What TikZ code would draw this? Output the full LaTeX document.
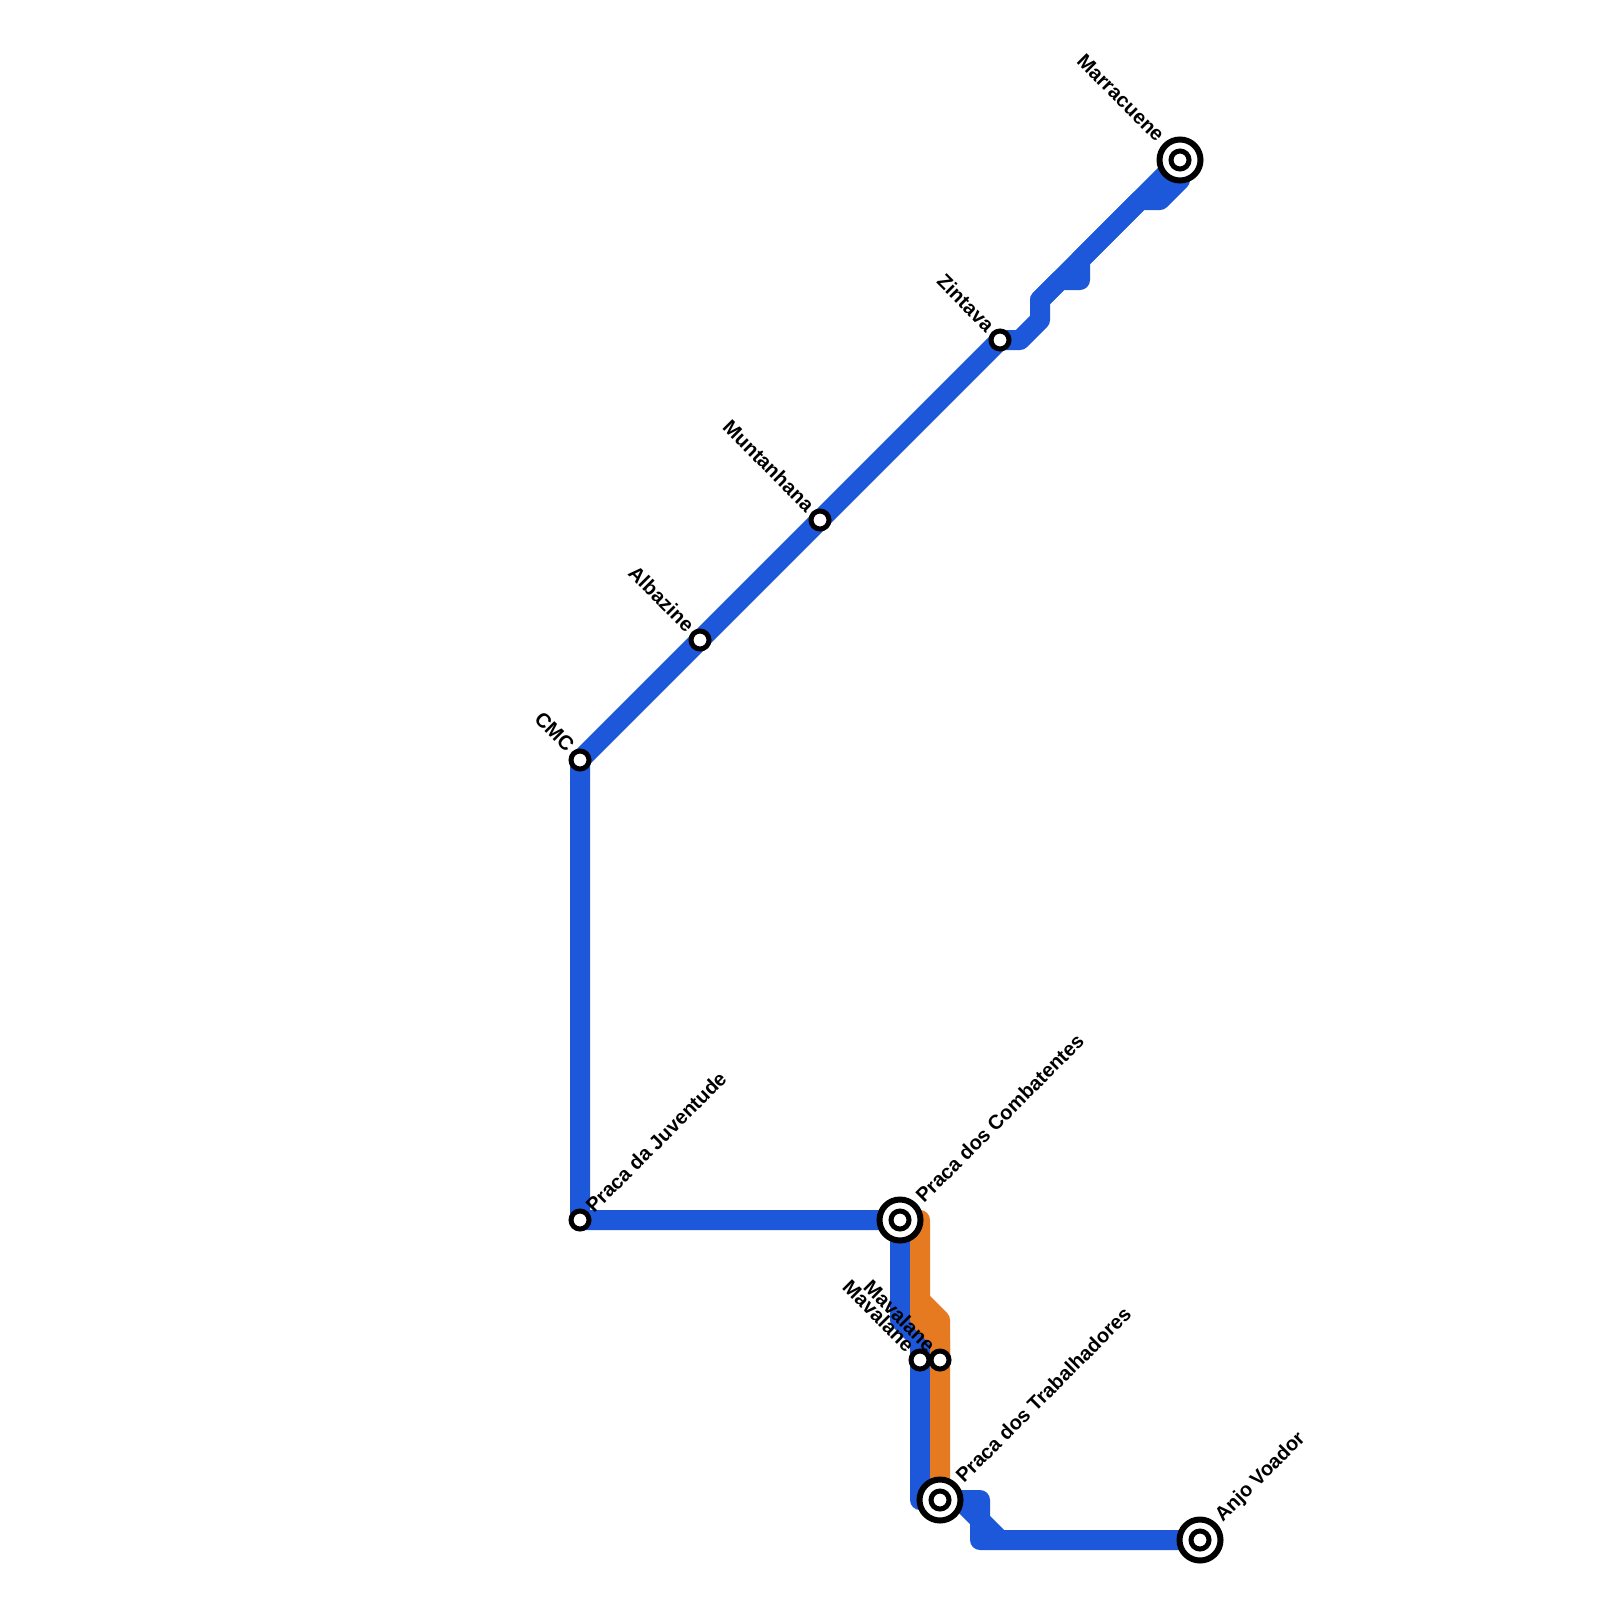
\documentclass[tikz,border=0pt]{standalone}
\usepackage{fontspec}
\setmainfont{Liberation Sans}
\usepackage{xcolor}
\definecolor{lineblue}{RGB}{30,88,218}
\definecolor{lineorange}{RGB}{230,122,32}
\tikzset{
  metro/.style={line width=20pt, line join=round, line cap=round},
  stop/.style={circle, draw=black, fill=white, line width=5pt, minimum size=18pt, inner sep=0pt},
  terminus/.style={circle, draw=black, fill=white, line width=6pt, minimum size=41pt, inner sep=0pt},
  hub/.style={circle, draw=black, fill=white, line width=5pt, minimum size=18pt, inner sep=0pt},
  leftlabel/.style={font=\fontsize{20.2pt}{22pt}\selectfont\bfseries, rotate=-45, anchor=east, inner sep=0pt},
  rightlabel/.style={font=\fontsize{20pt}{22pt}\selectfont\bfseries, rotate=45, anchor=west, inner sep=0pt},
}
\begin{document}
\begin{tikzpicture}[x=1pt, y=-1pt]
  \useasboundingbox (0,0) rectangle (1600,1600);
  % bends
  \foreach \name/\x/\y in {n1/1180/180, n2/1160/200, n3/1140/200, n4/1080/260, n5/1080/280, n6/1060/280,
      n7/1040/300, n8/1040/320, n9/1020/340,
      s1/900/1320, s2/920/1340, t1/920/1500, e1/980/1500, e2/980/1520, e3/1000/1540, e4/980/1540, e5/960/1500,
      o0/920/1220, o1/920/1300, o2/940/1320, o3/920/1320, o4/940/1340} {
    \coordinate (\name) at (\x,\y);
  }
  % stations
  \coordinate (marracuene) at (1180,160);
  \coordinate (zintava) at (1000,340);
  \coordinate (muntanhana) at (820,520);
  \coordinate (albazine) at (700,640);
  \coordinate (cmc) at (580,760);
  \coordinate (juventude) at (580,1220);
  \coordinate (combatentes) at (900,1220);
  \coordinate (mavalaneA) at (920,1360);
  \coordinate (mavalaneB) at (940,1360);
  \coordinate (trabalhadores) at (940,1500);
  \coordinate (anjo) at (1200,1540);

  % blue line
  \draw[metro, lineblue] (marracuene) -- (n7);
  \draw[metro, lineblue] (marracuene) -- (n1) -- (n2) -- (n3) -- (n4) -- (n5) -- (n6) -- (n7) -- (n8) -- (n9) -- (zintava)
    -- (muntanhana) -- (albazine) -- (cmc) -- (juventude) -- (combatentes);
  \draw[metro, lineblue] (combatentes) -- (s1) -- (s2) -- (mavalaneA) -- (t1) -- (trabalhadores);
  \draw[metro, lineblue] (trabalhadores) -- (e1) -- (e2) -- (e3) -- (anjo);
  \draw[metro, lineblue] (e5) -- (e2) -- (e4) -- (e3);
  % orange line
  \draw[metro, lineorange, line cap=butt] (combatentes) -- (o0) -- (o1) -- (o2) -- (mavalaneB) -- (trabalhadores);
  \draw[metro, lineorange, line cap=butt] (o1) -- (o3) -- (o4) -- (mavalaneB);

  % markers
  \foreach \st in {marracuene, combatentes, trabalhadores, anjo} {
    \node[terminus] (\st-outer) at (\st) {};
    \node[hub] (\st-inner) at (\st) {};
  }
  \foreach \st in {zintava, muntanhana, albazine, cmc, juventude, mavalaneA, mavalaneB} {
    \node[stop] (\st-mark) at (\st) {};
  }

  % names
  \node[leftlabel] (lab-marracuene) at (1161,138) {Marracuene};
  \node[leftlabel] (lab-zintava) at (991,328) {Zintava};
  \node[leftlabel] (lab-muntanhana) at (811,508) {Muntanhana};
  \node[leftlabel] (lab-albazine) at (691,628) {Albazine};
  \node[leftlabel] (lab-cmc) at (571,748) {CMC};
  \node[leftlabel] (lab-mavalaneA) at (911,1348) {Mavalane};
  \node[leftlabel] (lab-mavalaneB) at (932,1348) {Mavalane};
  \node[rightlabel] (lab-juventude) at (589,1209) {Praca da Juventude};
  \node[rightlabel] (lab-combatentes) at (919,1199) {Praca dos Combatentes};
  \node[rightlabel] (lab-trabalhadores) at (959,1479) {Praca dos Trabalhadores};
  \node[rightlabel] (lab-anjo) at (1219,1519) {Anjo Voador};
\end{tikzpicture}
\end{document}
